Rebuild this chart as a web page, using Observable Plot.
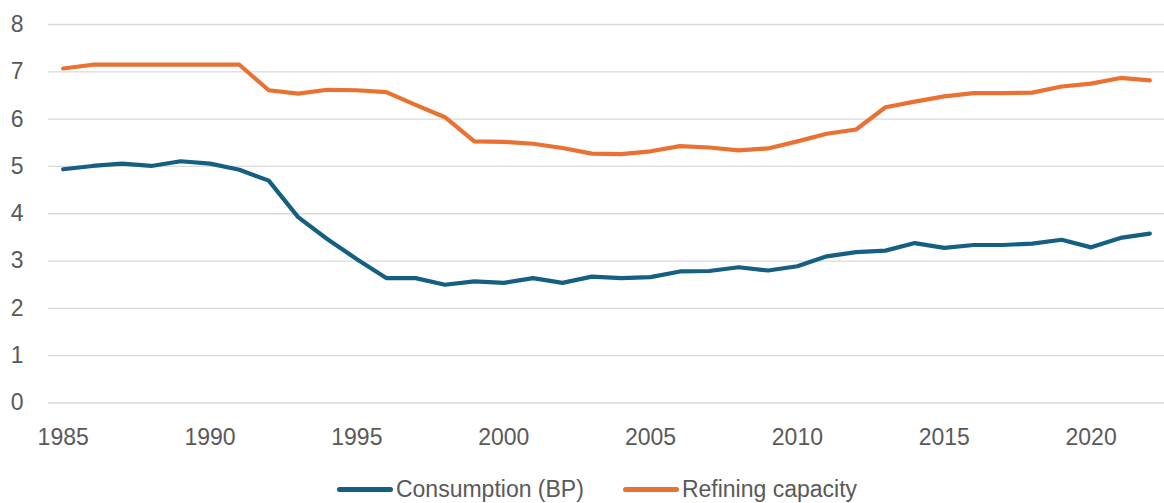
<!DOCTYPE html>
<html>
<head>
<meta charset="utf-8">
<script src="https://cdn.jsdelivr.net/npm/d3@7"></script>
<script src="https://cdn.jsdelivr.net/npm/@observablehq/plot@0.6"></script>
<style>
  html, body { margin: 0; padding: 0; background: #fff; }
  #chart svg { display: block; }
  .legend { height: 43px; display: flex; justify-content: center; align-items: center; gap: 39px;
    font-family: "Liberation Sans", Arial, sans-serif; font-size: 23px; color: #595959;
    padding-left: 30px; padding-top: 16px; box-sizing: border-box; }
  .legend .item { display: flex; align-items: center; }
  .legend .sw { width: 56px; height: 5px; border-radius: 3px; margin-right: 3px; }
</style>
</head>
<body>
<div id="chart"></div>
<div class="legend" id="legend"></div>
<script>
const years = d3.range(1985, 2023);
const consumption = [4.94, 5.01, 5.06, 5.01, 5.11, 5.06, 4.93, 4.70, 3.93, 3.46, 3.04, 2.64,
  2.64, 2.50, 2.57, 2.54, 2.64, 2.54, 2.67, 2.64, 2.66, 2.78, 2.79, 2.87, 2.80, 2.89,
  3.10, 3.19, 3.22, 3.38, 3.28, 3.34, 3.34, 3.37, 3.45, 3.29, 3.49, 3.58];
const refining = [7.07, 7.15, 7.15, 7.15, 7.15, 7.15, 7.15, 6.61, 6.54, 6.62, 6.61, 6.57,
  6.30, 6.04, 5.53, 5.52, 5.48, 5.39, 5.27, 5.26, 5.32, 5.43, 5.40, 5.34, 5.38, 5.53,
  5.69, 5.78, 6.25, 6.37, 6.48, 6.55, 6.55, 6.56, 6.69, 6.75, 6.87, 6.82];
const seriesNames = ["Consumption (BP)", "Refining capacity"];
const seriesColors = ["#156082", "#E97132"];
const yTicks = d3.range(0, 9);
const xTicks = [1985, 1990, 1995, 2000, 2005, 2010, 2015, 2020];

const rows = [];
years.forEach((y, i) => {
  rows.push({year: y, value: consumption[i], series: seriesNames[0]});
  rows.push({year: y, value: refining[i], series: seriesNames[1]});
});

const plot = Plot.plot({
  width: 1164,
  height: 460,
  marginLeft: 48,
  marginRight: 0,
  marginTop: 24,
  marginBottom: 57.5,
  style: {fontFamily: "'Liberation Sans', Arial, sans-serif", fontSize: "23px", color: "#595959", background: "#fff"},
  x: {domain: [years[0] - 0.5, years[years.length - 1] + 0.5]},
  y: {domain: [0, 8]},
  color: {domain: seriesNames, range: seriesColors},
  marks: [
    Plot.ruleY(yTicks, {stroke: "#d9d9d9", strokeWidth: 1.3}),
    Plot.axisY({ticks: yTicks, tickSize: 0, tickPadding: 25, label: null, fill: "#595959", fontSize: 23}),
    Plot.axisX({ticks: xTicks, tickSize: 0, tickPadding: 26, tickFormat: d => String(d), label: null, fill: "#595959", fontSize: 23}),
    Plot.line(rows, {x: "year", y: "value", z: "series", stroke: "series", strokeWidth: 4.2,
      strokeLinejoin: "round", strokeLinecap: "round"})
  ]
});
document.getElementById("chart").appendChild(plot);

const legend = document.getElementById("legend");
seriesNames.forEach((n, i) => {
  const it = document.createElement("div");
  it.className = "item";
  it.innerHTML = `<span class="sw" style="background:${seriesColors[i]}"></span><span>${n}</span>`;
  legend.appendChild(it);
});
</script>
</body>
</html>
